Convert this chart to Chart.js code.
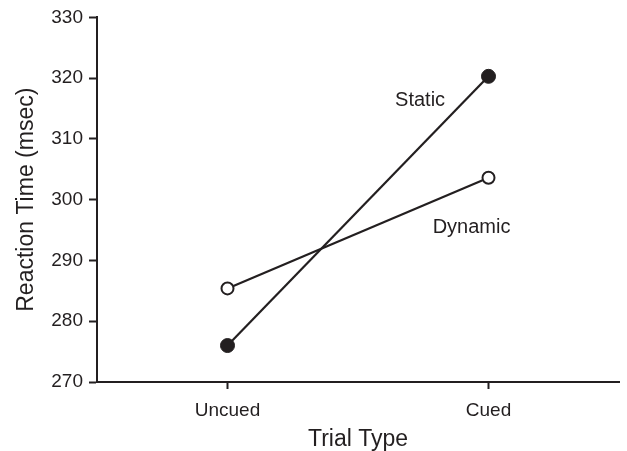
<!DOCTYPE html>
<html>
<head>
<meta charset="utf-8">
<script src="https://cdn.jsdelivr.net/npm/chart.js@4.4.1/dist/chart.umd.min.js"></script>
<style>
  html, body { margin: 0; padding: 0; background: #fff; }
  #wrap { width: 627px; height: 451px; }
</style>
</head>
<body>
<div id="wrap"><canvas id="rtChart"></canvas></div>
<script>
// du lieu doc tu hinh
const trialTypes = ['Uncued', 'Cued'];
const staticRT = [276.0, 320.3];
const dynamicRT = [285.4, 303.6];
const yTicks = [270, 280, 290, 300, 310, 320, 330];

const ink = '#231f20';
const fontFamily = '"Liberation Sans", Arial, sans-serif';

// nhan "Static" / "Dynamic" ve canh duong
const seriesLabels = {
    id: 'seriesLabels',
    afterDatasetsDraw(chart) {
        const { ctx, scales: { x, y } } = chart;
        ctx.save();
        ctx.fillStyle = ink;
        ctx.font = '20px ' + fontFamily;
        ctx.textBaseline = 'middle';
        ctx.textAlign = 'left';
        ctx.fillText('Static', x.getPixelForValue(1.642), y.getPixelForValue(316.4));
        ctx.fillText('Dynamic', x.getPixelForValue(1.786), y.getPixelForValue(295.4));
        ctx.restore();
    }
};

const toPoints = arr => arr.map((v, i) => ({ x: i + 1, y: v }));

new Chart(document.getElementById('rtChart'), {
    type: 'line',
    data: {
        datasets: [{
            label: 'Static',
            data: toPoints(staticRT),
            borderColor: ink,
            borderWidth: 2.2,
            pointRadius: 7,
            pointBackgroundColor: ink,
            pointBorderColor: ink,
            pointBorderWidth: 1
        }, {
            label: 'Dynamic',
            data: toPoints(dynamicRT),
            borderColor: ink,
            borderWidth: 2.2,
            pointRadius: 6,
            pointBackgroundColor: '#ffffff',
            pointBorderColor: ink,
            pointBorderWidth: 2
        }]
    },
    options: {
        responsive: true,
        maintainAspectRatio: false,
        animation: false,
        layout: { padding: { top: 16, right: 6, left: 0, bottom: 0 } },
        plugins: {
            legend: { display: false },
            tooltip: { enabled: false }
        },
        scales: {
            x: {
                type: 'linear',
                min: 0.5,
                max: 2.5,
                afterBuildTicks: scale => {
                    scale.ticks = trialTypes.map((t, i) => ({ value: i + 1 }));
                },
                afterFit: scale => { scale.height = 69; },
                grid: { drawOnChartArea: false, drawTicks: true, tickLength: 7, tickWidth: 2, tickColor: ink },
                border: { color: ink, width: 2 },
                ticks: {
                    color: ink,
                    padding: 10,
                    font: { size: 19, family: fontFamily },
                    callback: value => trialTypes[value - 1] || ''
                },
                title: {
                    display: true,
                    text: 'Trial Type',
                    color: ink,
                    padding: { top: 0, bottom: 0 },
                    font: { size: 23, family: fontFamily, lineHeight: 1.0 }
                }
            },
            y: {
                min: yTicks[0],
                max: yTicks[yTicks.length - 1],
                afterBuildTicks: scale => {
                    scale.ticks = yTicks.map(v => ({ value: v }));
                },
                afterFit: scale => { scale.width = 97; },
                grid: { drawOnChartArea: false, drawTicks: true, tickLength: 8, tickWidth: 2, tickColor: ink },
                border: { color: ink, width: 2 },
                ticks: {
                    color: ink,
                    padding: 6,
                    font: { size: 19, family: fontFamily }
                },
                title: {
                    display: true,
                    text: 'Reaction Time (msec)',
                    color: ink,
                    padding: { top: 15, bottom: 0 },
                    font: { size: 23, family: fontFamily, lineHeight: 1.0 }
                }
            }
        }
    },
    plugins: [seriesLabels]
});
</script>
</body>
</html>
